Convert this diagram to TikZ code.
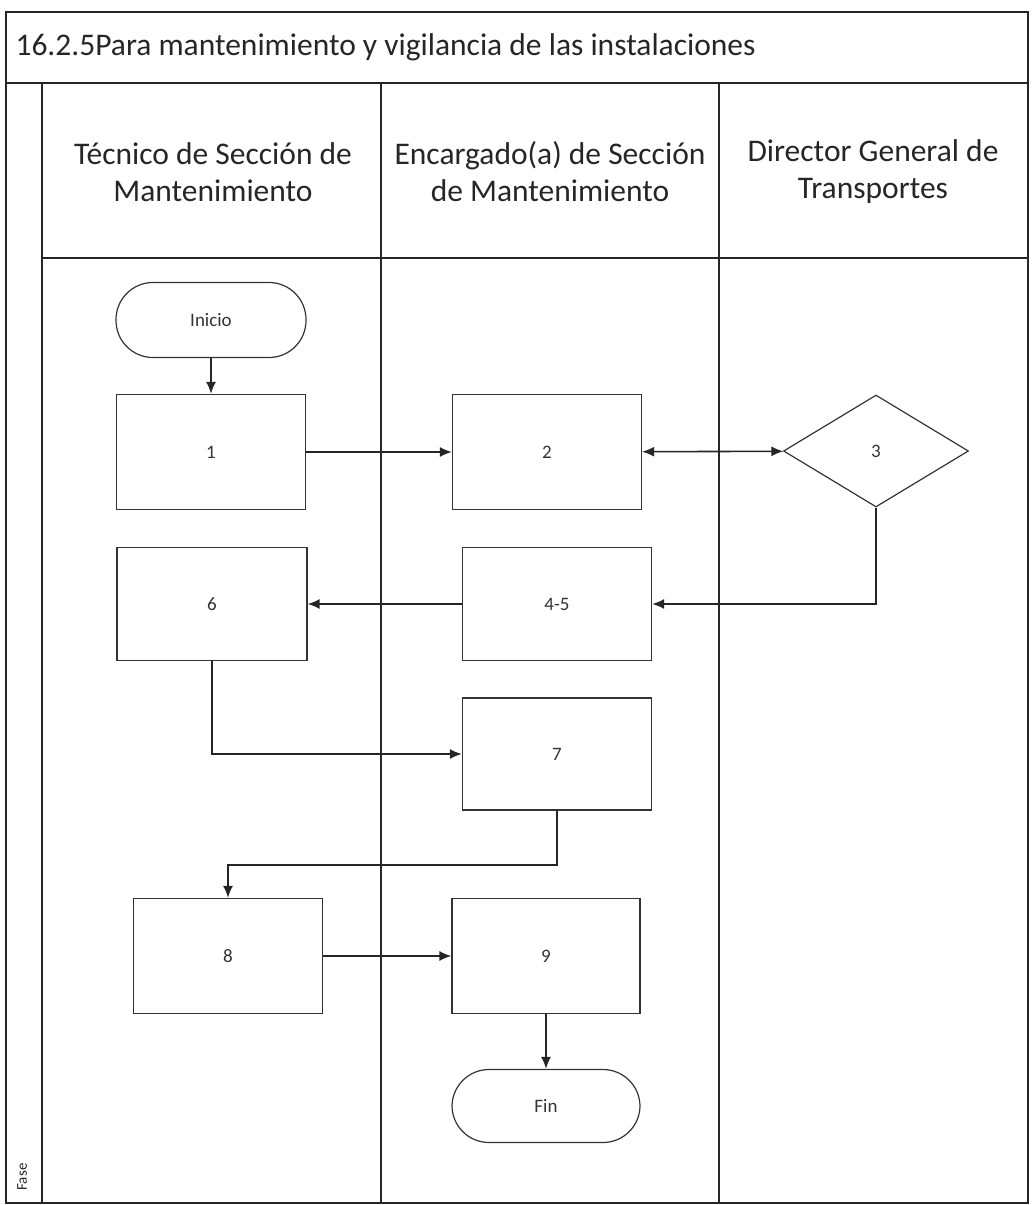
\documentclass[tikz,border=0pt]{standalone}
\usepackage{fontspec}
\setmainfont{Carlito}
\usetikzlibrary{shapes.geometric,arrows.meta}
\begin{document}
\begin{tikzpicture}[x=1pt,y=-1pt,
  lane/.style={line width=1.4pt,draw=black!85},
  stepbox/.style={draw=black!80,line width=1.2pt,minimum width=189pt,minimum height=115pt,inner sep=0pt,font=\fontsize{19}{22}\selectfont,text=black!80},
  term/.style={draw=black!80,line width=1.2pt,minimum width=190pt,minimum height=75pt,rounded corners=37pt,inner sep=0pt,font=\fontsize{19}{22}\selectfont,text=black!80},
  decision/.style={diamond,draw=black!80,line width=1.2pt,minimum width=185pt,minimum height=112pt,inner sep=0pt,font=\fontsize{19}{22}\selectfont,text=black!80},
  head/.style={align=center,font=\fontsize{31.5}{37}\selectfont,text=black!85},
  flow/.style={draw=black!85,line width=1.6pt,-{Latex[length=12pt,width=10pt]}}
]
\useasboundingbox (0,0) rectangle (1031,1205);
% frame
\draw[lane] (6,12) rectangle (1028,1203);
\draw[lane] (6,83) -- (1028,83);
\draw[lane] (42,83) -- (42,1203);
\draw[lane] (381,83) -- (381,1203);
\draw[lane] (719,83) -- (719,1203);
\draw[lane] (42,258) -- (1028,258);
\node[anchor=west,font=\fontsize{31.5}{36}\selectfont,text=black!85] (title) at (12,47) {16.2.5Para mantenimiento y vigilancia de las instalaciones};
\node[head] (h1) at (213,172) {Técnico de Sección de\\Mantenimiento};
\node[head] (h2) at (550,172) {Encargado(a) de Sección\\de Mantenimiento};
\node[head] (h3) at (873,172) {Director General de\\Transportes};
\node[rotate=90,font=\fontsize{15}{18}\selectfont,text=black!85] (fase) at (22,1177) {Fase};
% nodes
\node[term] (ini) at (211,320) {Inicio};
\node[stepbox] (n1) at (211,452) {1};
\node[stepbox] (n2) at (547,452) {2};
\node[decision] (n3) at (876,451) {3};
\node[stepbox,minimum width=190pt,minimum height=113pt] (n6) at (212,604) {6};
\node[stepbox,minimum width=189pt,minimum height=113pt] (n45) at (557,604) {4-5};
\node[stepbox,minimum width=189pt,minimum height=112pt] (n7) at (557,754) {7};
\node[stepbox] (n8) at (228,956) {8};
\node[stepbox,minimum width=188pt] (n9) at (546,956) {9};
\node[term,minimum width=188pt,minimum height=73pt] (fin) at (546,1106) {Fin};
% connectors
\draw[flow] (ini) -- (n1);
\draw[flow] (n1) -- (n2);
\draw[flow,{Latex[length=12pt,width=10pt]}-{Latex[length=12pt,width=10pt]}] (n2) -- (n3);
\draw[flow] (n3.south) |- (n45.east);
\draw[flow] (n45) -- (n6);
\draw[flow] (n6.south) |- (n7.west);
\coordinate (k) at (557,865);
\draw[flow] (n7.south) -- (k) -| (n8.north);
\draw[flow] (n8) -- (n9);
\draw[flow] (n9) -- (fin);
\end{tikzpicture}
\end{document}
